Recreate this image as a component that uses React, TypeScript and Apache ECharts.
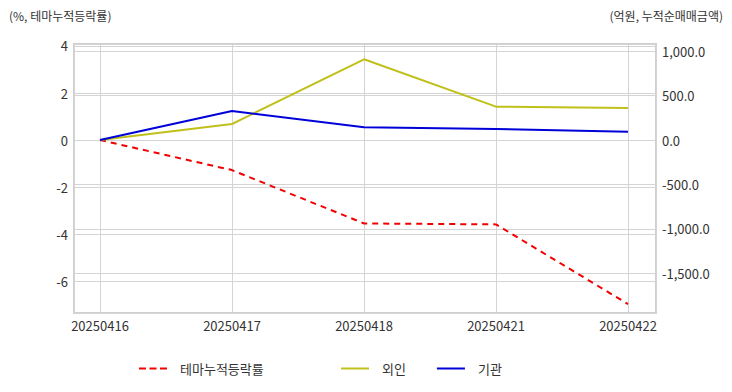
import React, { useEffect, useRef } from "react";
import * as echarts from "echarts";

const dates = ["20250416", "20250417", "20250418", "20250421", "20250422"];
const themeReturn = [0, -1.28, -3.55, -3.59, -6.98];
const foreign = [0, 180, 908, 375, 360];
const institution = [0, 326, 143, 124, 93];

const leftTitle = "(%, 테마누적등락률)";
const rightTitle = "(억원, 누적순매매금액)";
const seriesNames = ["테마누적등락률", "외인", "기관"];

const FONT = "'Noto Sans CJK KR', 'Noto Sans', sans-serif";
const DASH_ICON = "path://M0,0h7v2h-7z M10.5,0h7v2h-7z M21,0h7v2h-7z";
const LINE_ICON = "path://M0,0h28v2h-28z";

function fmtAmount(v: number) {
  const s = Math.abs(v).toFixed(1);
  const [i, d] = s.split(".");
  const withComma = i.replace(/\B(?=(\d{3})+(?!\d))/g, ",");
  return (v < 0 ? "-" : "") + withComma + "." + d;
}

export default function App() {
  const ref = useRef<HTMLDivElement>(null);
  useEffect(() => {
    if (!ref.current) return;
    const chart = echarts.init(ref.current, undefined, { renderer: "svg" });
    const toXY = (arr: number[]) => arr.map((v, i) => [i, v]);
    const gridLine = { show: true, lineStyle: { color: "#d4d4d4", width: 1 } };
    const legendText = { fontSize: 13, color: "#333", fontFamily: FONT };
    chart.setOption({
      animation: false,
      textStyle: { fontFamily: FONT },
      title: [
        { text: leftTitle, left: 4, top: 4, textStyle: { fontSize: 12, fontWeight: "normal", color: "#333", fontFamily: FONT } },
        { text: rightTitle, right: 4, top: 4, textStyle: { fontSize: 12, fontWeight: "normal", color: "#333", fontFamily: FONT } },
      ],
      legend: [
        {
          data: [{ name: seriesNames[0], icon: DASH_ICON }],
          left: 134,
          top: 357,
          itemWidth: 28,
          itemHeight: 2,
          textStyle: { ...legendText, padding: [0, 0, 0, 8] },
        },
        {
          data: [
            { name: seriesNames[1], icon: LINE_ICON },
            { name: seriesNames[2], icon: LINE_ICON },
          ],
          left: 336,
          top: 357,
          itemWidth: 28,
          itemHeight: 2,
          itemGap: 31,
          textStyle: { ...legendText, padding: [0, 0, 0, 8] },
        },
      ],
      grid: {
        left: 74,
        right: 76,
        top: 44,
        bottom: 79,
        show: true,
        borderColor: "#cfcfcf",
        borderWidth: 2,
      },
      xAxis: {
        type: "value",
        min: -0.197,
        max: 4.212,
        minInterval: 1,
        maxInterval: 1,
        axisLine: { show: false },
        axisTick: { show: false },
        splitLine: gridLine,
        axisLabel: {
          showMinLabel: false,
          showMaxLabel: false,
          color: "#333",
          fontSize: 13,
          fontFamily: FONT,
          margin: 6,
          formatter: (v: number) => (Number.isInteger(v) ? dates[v] ?? "" : ""),
        },
      },
      yAxis: [
        {
          type: "value",
          min: -7.36,
          max: 4.085,
          minInterval: 2,
          maxInterval: 2,
          axisLine: { show: false },
          axisTick: { show: false },
          splitLine: gridLine,
          axisLabel: {
            showMinLabel: false,
            showMaxLabel: false,
            color: "#333",
            fontSize: 13,
            fontFamily: FONT,
            margin: 6,
          },
        },
        {
          type: "value",
          min: -1946,
          max: 1080,
          minInterval: 500,
          maxInterval: 500,
          axisLine: { show: false },
          axisTick: { show: false },
          splitLine: gridLine,
          axisLabel: {
            showMinLabel: false,
            showMaxLabel: false,
            color: "#333",
            fontSize: 13,
            fontFamily: FONT,
            margin: 6,
            formatter: (v: number) => fmtAmount(v),
          },
        },
      ],
      series: [
        {
          name: seriesNames[0],
          type: "line",
          yAxisIndex: 0,
          data: toXY(themeReturn),
          symbol: "none",
          lineStyle: { color: "#f00000", width: 2, type: [6, 5] },
          itemStyle: { color: "#f00000" },
        },
        {
          name: seriesNames[1],
          type: "line",
          yAxisIndex: 1,
          data: toXY(foreign),
          symbol: "none",
          lineStyle: { color: "#c0c01a", width: 2 },
          itemStyle: { color: "#c0c01a" },
        },
        {
          name: seriesNames[2],
          type: "line",
          yAxisIndex: 1,
          data: toXY(institution),
          symbol: "none",
          lineStyle: { color: "#0000d8", width: 2 },
          itemStyle: { color: "#0000d8" },
        },
      ],
    });
    return () => chart.dispose();
  }, []);
  return (
    <div
      ref={ref}
      style={{ position: "fixed", left: 0, top: 0, width: 732, height: 392, background: "#fff" }}
    />
  );
}
